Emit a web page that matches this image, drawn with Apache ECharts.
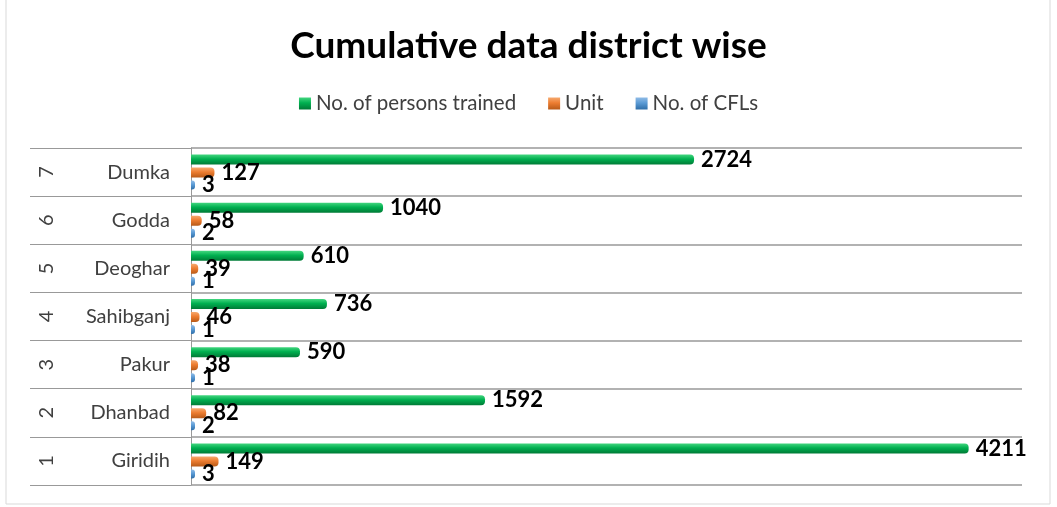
<!DOCTYPE html>
<html><head><meta charset="utf-8">
<script src="https://cdn.jsdelivr.net/npm/echarts@6/dist/echarts.min.js"></script>
<style>html,body{margin:0;padding:0;background:#fff}#c{width:1057px;height:507px}</style>
</head><body><div id="c"></div>
<script>
const ids = ['1','2','3','4','5','6','7'];
const districts = ['Giridih','Dhanbad','Pakur','Sahibganj','Deoghar','Godda','Dumka'];
const personsTrained = [4211,1592,590,736,610,1040,2724];
const units = [149,82,38,46,39,58,127];
const cfls = [3,2,1,1,1,2,3];
const seriesNames = ['No. of persons trained','Unit','No. of CFLs'];

const FONT = 'Lato, "Open Sans", sans-serif';
const chart = echarts.init(document.getElementById('c'));
function grad(top, mid, bot){
  return new echarts.graphic.LinearGradient(0,0,0,1,[{offset:0,color:top},{offset:0.45,color:mid},{offset:1,color:bot}]);
}
const labelStyle = {show:true, position:'right', distance:7, color:'#000', fontWeight:'bold', fontSize:22, fontFamily:FONT};
chart.setOption({
  animation:false,
  textStyle:{fontFamily:FONT},
  title:{text:'Cumulative data district wise', left:'center', top:23,
    textStyle:{fontSize:37, fontWeight:'bold', color:'#000', fontFamily:FONT}},
  legend:{data:seriesNames, top:88, left:'center', itemWidth:12, itemHeight:12, itemGap:32, icon:'rect',
    textStyle:{fontSize:20.5, color:'#404040'}},
  grid:{left:191, right:35, top:148, bottom:22},
  xAxis:{type:'value', min:0, max:4500, show:false, splitLine:{show:false}},
  yAxis:[
    {type:'category', data:districts, position:'left',
      axisLine:{show:true, lineStyle:{color:'#999', width:1}},
      axisTick:{show:true, length:161, lineStyle:{color:'#999'}},
      axisLabel:{fontSize:20, color:'#404040', margin:21},
      splitLine:{show:true, lineStyle:{color:'#999', width:1.5}}},
    {type:'category', data:ids, position:'left', offset:134,
      axisLine:{show:false}, axisTick:{show:false},
      axisLabel:{fontSize:20, color:'#404040', rotate:90, margin:0}}
  ],
  series:[
    {name:seriesNames[0], type:'bar', data:personsTrained, barWidth:10, barGap:'30%', barCategoryGap:'30%',
      itemStyle:{color:grad('#43d67f','#00b050','#007a36'), borderRadius:[0,4,4,0]}, label:labelStyle},
    {name:seriesNames[1], type:'bar', data:units, barWidth:10,
      itemStyle:{color:grad('#f6a96e','#ed7d31','#b85a18'), borderRadius:[0,4,4,0]}, label:labelStyle},
    {name:seriesNames[2], type:'bar', data:cfls, barWidth:9, barMinHeight:4,
      itemStyle:{color:grad('#8fbbe6','#5b9bd5','#2f6ea8'), borderRadius:[0,3,3,0]}, label:labelStyle}
  ],
  graphic:[{type:'rect', shape:{x:6, y:-2, width:1044, height:506}, style:{fill:'none', stroke:'#d9d9d9', lineWidth:1}, silent:true}]
});
</script></body></html>
